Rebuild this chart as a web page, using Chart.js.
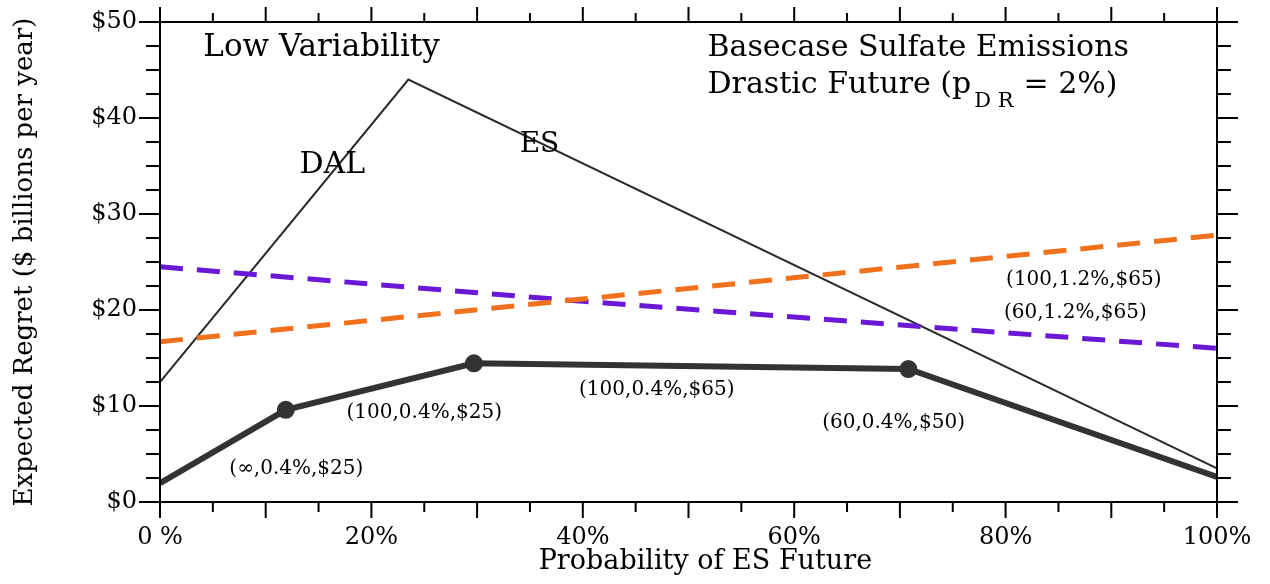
<!DOCTYPE html>
<html>
<head>
<meta charset="utf-8">
<script src="https://cdn.jsdelivr.net/npm/chart.js@4.4.1/dist/chart.umd.min.js"></script>
<style>
  html, body { margin: 0; padding: 0; background: #fff; }
</style>
</head>
<body>
<canvas id="chart" width="1270" height="584"></canvas>
<script>
// Probability of ES future (%) vs expected regret ($ billions per year)
const thinX = [0, 23.5, 100];
const thinY = [12.5, 44.0, 3.5];
const orangeX = [0, 100];
const orangeY = [16.7, 27.8];
const purpleX = [0, 40, 100];
const purpleY = [24.5, 20.9, 16.0];
const thickX = [0, 11.9, 29.7, 70.8, 100];
const thickY = [1.95, 9.6, 14.45, 13.85, 2.6];
const xTickLabels = ['0 %', '20%', '40%', '60%', '80%', '100%'];
const yTickLabels = ['$0', '$10', '$20', '$30', '$40', '$50'];

const SERIF = '"DejaVu Serif", "Liberation Serif", serif';

// text placed in data coordinates
const notes = [
  { text: 'Low Variability', x: 4.1, y: 47.3, size: 31, align: 'left' },
  { text: 'Basecase Sulfate Emissions', x: 51.8, y: 47.3, size: 30, align: 'left' },
  { text: 'DAL', x: 16.3, y: 35.1, size: 30, align: 'center' },
  { text: 'ES', x: 35.9, y: 37.2, size: 28, align: 'center' },
  { text: '(\u221e,0.4%,$25)', x: 12.9, y: 3.5, size: 20, align: 'center' },
  { text: '(100,0.4%,$25)', x: 25.0, y: 9.3, size: 20, align: 'center' },
  { text: '(100,0.4%,$65)', x: 47.0, y: 11.7, size: 20, align: 'center' },
  { text: '(60,0.4%,$50)', x: 69.4, y: 8.2, size: 20, align: 'center' },
  { text: '(100,1.2%,$65)', x: 87.4, y: 23.1, size: 20, align: 'center' },
  { text: '(60,1.2%,$65)', x: 86.6, y: 19.7, size: 20, align: 'center' }
];

function pts(xs, ys) {
  return xs.map((x, i) => ({ x: x, y: ys[i] }));
}

const framePlugin = {
  id: 'frame',
  afterDatasetsDraw(chart) {
    const { ctx, chartArea: a, scales: { x, y } } = chart;
    ctx.save();
    ctx.strokeStyle = '#000';
    ctx.lineWidth = 2;
    ctx.strokeRect(a.left, a.top, a.right - a.left, a.bottom - a.top);
    ctx.beginPath();
    for (let v = 0; v <= 100; v += 5) {
      const px = x.getPixelForValue(v);
      const major = v % 10 === 0;
      ctx.moveTo(px, a.bottom); ctx.lineTo(px, a.bottom + (major ? 16 : 10));
      ctx.moveTo(px, a.top); ctx.lineTo(px, a.top - (major ? 15 : 9));
    }
    for (let v = 0; v <= 50; v += 2.5) {
      const py = y.getPixelForValue(v);
      const len = v % 10 === 0 ? 21 : 14;
      ctx.moveTo(a.left - len, py); ctx.lineTo(a.left, py);
      ctx.moveTo(a.right, py); ctx.lineTo(a.right + len, py);
    }
    ctx.stroke();

    ctx.fillStyle = '#000';
    ctx.textBaseline = 'middle';
    notes.forEach(n => {
      ctx.font = n.size + 'px ' + SERIF;
      ctx.textAlign = n.align;
      ctx.fillText(n.text, x.getPixelForValue(n.x), y.getPixelForValue(n.y));
    });

    // second line of the heading, with subscript
    ctx.textAlign = 'left';
    let px = x.getPixelForValue(51.8);
    const py = y.getPixelForValue(43.4);
    ctx.font = '30px ' + SERIF;
    ctx.fillText('Drastic Future (p', px, py);
    px += ctx.measureText('Drastic Future (p').width + 3;
    ctx.font = '21px ' + SERIF;
    ctx.fillText('D R', px, py + 16);
    px += ctx.measureText('D R').width + 10;
    ctx.font = '30px ' + SERIF;
    ctx.fillText('= 2%)', px, py);

    // x axis title
    ctx.textAlign = 'center';
    ctx.font = '27px ' + SERIF;
    ctx.fillText('Probability of ES Future', x.getPixelForValue(51.6), a.bottom + 60);
    ctx.restore();
  }
};

new Chart(document.getElementById('chart'), {
  type: 'line',
  data: {
    datasets: [
      {
        data: pts(thickX, thickY),
        borderColor: '#333333',
        backgroundColor: '#333333',
        borderWidth: 6,
        pointRadius: thickX.map((v, i) => (i === 0 || i === thickX.length - 1) ? 0 : 6),
        order: 1
      },
      {
        data: pts(orangeX, orangeY),
        borderColor: '#f2711c',
        borderWidth: 5,
        borderDash: [23, 14],
        pointRadius: 0,
        order: 2
      },
      {
        data: pts(purpleX, purpleY),
        borderColor: '#6a17d6',
        borderWidth: 5,
        borderDash: [23, 14],
        pointRadius: 0,
        order: 3
      },
      {
        data: pts(thinX, thinY),
        borderColor: '#2b2b2b',
        borderWidth: 2,
        pointRadius: 0,
        order: 4
      }
    ]
  },
  options: {
    responsive: false,
    animation: false,
    devicePixelRatio: 1,
    layout: { padding: { left: 0, right: 53, top: 22, bottom: 0 } },
    plugins: { legend: { display: false }, tooltip: { enabled: false } },
    elements: { line: { tension: 0, capBezierPoints: false } },
    scales: {
      x: {
        type: 'linear',
        min: 0,
        max: 100,
        afterFit: s => { s.height = 82; s.paddingLeft = 0; s.paddingRight = 0; },
        grid: { display: false, drawTicks: false },
        border: { display: false },
        ticks: {
          stepSize: 20,
          padding: 21,
          color: '#000',
          font: { family: SERIF, size: 24 },
          callback: (v) => xTickLabels[v / 20]
        }
      },
      y: {
        min: 0,
        max: 50,
        afterFit: s => { s.width = 160; s.paddingTop = 0; s.paddingBottom = 0; },
        grid: { display: false, drawTicks: false },
        border: { display: false },
        ticks: {
          stepSize: 10,
          padding: 23,
          color: '#000',
          font: { family: SERIF, size: 24 },
          callback: (v) => yTickLabels[v / 10]
        },
        title: {
          display: true,
          text: 'Expected Regret ($ billions per year)',
          color: '#000',
          font: { family: SERIF, size: 26 },
          padding: { top: 10, bottom: 0 }
        }
      }
    }
  },
  plugins: [framePlugin]
});
</script>
</body>
</html>
